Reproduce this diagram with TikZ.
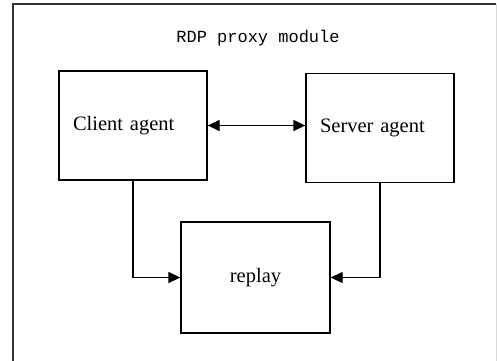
\documentclass[tikz,border=0pt]{standalone}
\usepackage{fontspec}
\setmainfont{Liberation Serif}
\newfontfamily\monofont{Liberation Mono}
\usetikzlibrary{arrows.meta}

\begin{document}
\begin{tikzpicture}[x=1pt,y=-1pt]
\tikzset{agent/.style={draw,line width=1.3pt,text width=120pt,inner xsep=14pt,
    minimum height=109pt,align=left,font=\fontsize{20.5}{24}\selectfont}}
\tikzset{box/.style={draw,line width=1.3pt,minimum width=149pt,minimum height=111pt,
    font=\fontsize{20.5}{24}\selectfont}}
\tikzset{link/.style={line width=1.3pt,>={Triangle[length=12pt,width=11pt]}}}

\useasboundingbox (0,0) rectangle (497,360);

% outer frame
\draw[line width=1.6pt,black!80] (13,362) -- (13,4) -- (496,4);
\draw[line width=0.8pt,black!15] (496,4) -- (496,362);

\node[font=\monofont\fontsize{17}{20}\selectfont] (title) at (258,38) {RDP proxy module};

\node[agent] (client) at (133,125.5) {Client agent};
\node[agent] (server) at (380,128) {Server agent};
\node[box] (replay) at (255.5,277.5) {replay};

\draw[link,<->] (client.east) -- (client.east -| server.west);
\draw[link,->] (client.south) |- (replay.west);
\draw[link,->] (server.south) |- (replay.east);

\end{tikzpicture}
\end{document}
